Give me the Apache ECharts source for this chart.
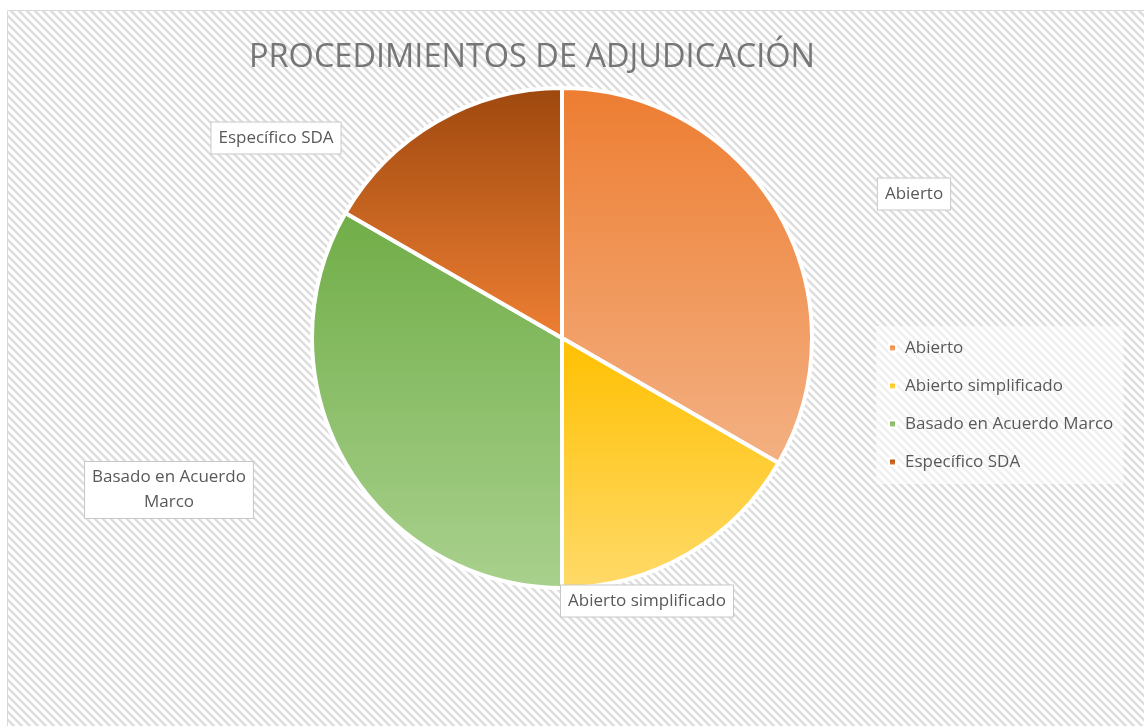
<!DOCTYPE html>
<html>
<head>
<meta charset="utf-8">
<script src="https://cdn.jsdelivr.net/npm/echarts@6/dist/echarts.min.js"></script>
<style>
  html, body { margin: 0; padding: 0; background: #fff; }
  #chart { width: 1144px; height: 726px; }
</style>
</head>
<body>
<div id="chart"></div>
<script>
// chart data
const categories = ['Abierto', 'Abierto simplificado', 'Basado en Acuerdo Marco', 'Específico SDA']
const values = [2, 1, 2, 1]
const labelTexts = ['Abierto', 'Abierto simplificado', 'Basado en Acuerdo\nMarco', 'Específico SDA']
const gradTop = ['#ED7D31', '#FFC000', '#70AD47', '#9E480E']
const gradBottom = ['#F4B183', '#FFDA6A', '#A9D18E', '#EE7F33']

// where the data labels sit (pixel centres)
const labelPos = [[914, 194], [647, 601], [169, 490], [276, 138]]

// hatched background
function makeHatch () {
  const c = document.createElement('canvas')
  c.width = 8
  c.height = 8
  const ctx = c.getContext('2d')
  ctx.fillStyle = '#ffffff'
  ctx.fillRect(0, 0, 8, 8)
  ctx.strokeStyle = '#dddddd'
  ctx.lineWidth = 2.4
  ctx.beginPath()
  ctx.moveTo(-2, -2); ctx.lineTo(10, 10)
  ctx.moveTo(-10, -2); ctx.lineTo(2, 10)
  ctx.moveTo(6, -2); ctx.lineTo(18, 10)
  ctx.stroke()
  return c
}

const chart = echarts.init(document.getElementById('chart'), null, {renderer: 'canvas'})

const seriesData = categories.map((name, i) => ({
  name: name,
  value: values[i],
  itemStyle: {
    color: new echarts.graphic.LinearGradient(0, 0, 0, 1, [
      {offset: 0, color: gradTop[i]},
      {offset: 1, color: gradBottom[i]}
    ])
  },
  label: {formatter: labelTexts[i]}
}))

const option = {
  backgroundColor: '#fff',
  title: {
    text: 'PROCEDIMIENTOS DE ADJUDICACIÓN',
    left: 527,
    top: 36,
    textAlign: 'center',
    textStyle: {
      fontFamily: 'Open Sans',
      fontWeight: 'normal',
      fontSize: 32.5,
      color: '#767676'
    }
  },
  graphic: [
    {
      type: 'rect',
      z: -10,
      silent: true,
      shape: {x: 7.5, y: 10.5, width: 1150, height: 730},
      style: {
        fill: {image: makeHatch(), repeat: 'repeat'},
        stroke: '#d9d9d9',
        lineWidth: 1
      }
    }
  ],
  legend: {
    orient: 'vertical',
    left: 876,
    top: 326,
    itemGap: 18,
    itemWidth: 7,
    itemHeight: 7,
    icon: 'rect',
    padding: [12, 10, 12, 12],
    backgroundColor: 'rgba(255,255,255,0.55)',
    textStyle: {
      fontFamily: 'Open Sans',
      fontSize: 17,
      lineHeight: 20,
      color: '#595959',
      padding: [0, 0, 0, 4]
    },
    data: categories
  },
  series: [{
    type: 'pie',
    center: [562, 338],
    radius: [0, 250],
    startAngle: 90,
    clockwise: true,
    silent: true,
    itemStyle: {
      borderColor: '#ffffff',
      borderWidth: 4
    },
    label: {
      show: true,
      position: 'outside',
      fontFamily: 'Open Sans',
      fontSize: 17,
      lineHeight: 25,
      color: '#595959',
      align: 'center',
      backgroundColor: '#ffffff',
      borderColor: '#c8c8c8',
      borderWidth: 1,
      padding: [3, 7, 3, 7]
    },
    labelLine: {show: false},
    labelLayout: function (params) {
      const p = labelPos[params.dataIndex]
      return {x: p[0], y: p[1], align: 'center', verticalAlign: 'middle', hideOverlap: false}
    },
    data: seriesData
  }]
}

chart.setOption(option)
</script>
</body>
</html>
